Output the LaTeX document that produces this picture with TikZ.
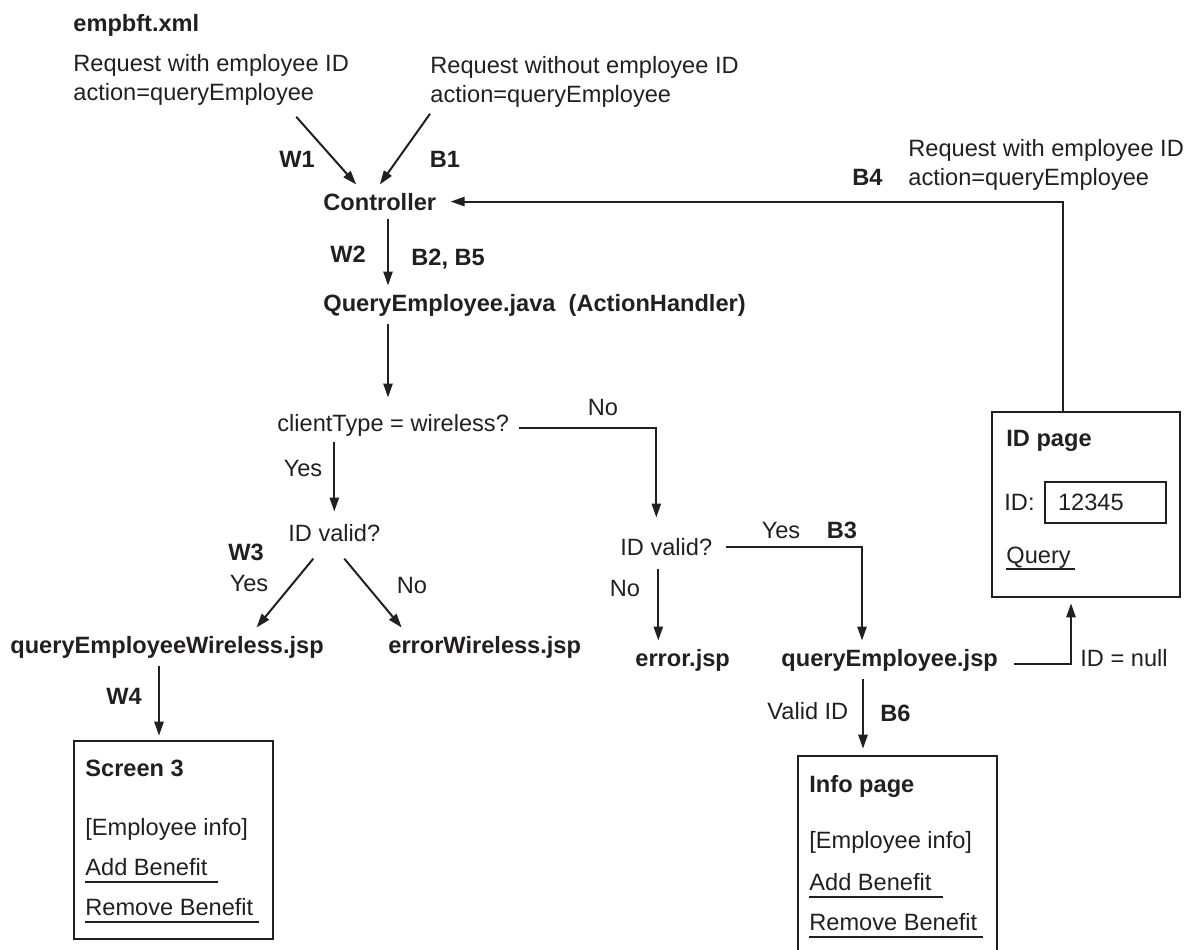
\documentclass[tikz,border=0pt]{standalone}
\usepackage{fontspec}
\setmainfont{Liberation Sans}
\usetikzlibrary{arrows.meta}
\newcommand{\diafont}{\fontsize{11.8}{14.5}\selectfont}
\begin{document}
\begin{tikzpicture}[x=0.5pt,y=-0.5pt]
    % Define colour
    \definecolor{ink}{RGB}{35,31,32}

    % Define styles
    \tikzset{
        txt/.style={
            inner sep=0pt,
            anchor=base west,
            align=left,
            text=ink,
            font=\diafont
        },
        tag/.style={
            txt,
            font=\diafont\bfseries
        },
        file/.style={
            tag,
            inner xsep=0pt,
            inner ysep=4pt
        },
        screen/.style={
            draw=ink,
            line width=1.3pt,
            rectangle,
            minimum width=99.5pt,
            minimum height=99pt
        },
        field/.style={
            draw=ink,
            line width=0.9pt,
            text=ink,
            font=\diafont,
            minimum height=20.5pt,
            text width=47.5pt,
            inner xsep=6.5pt,
            align=left
        },
        flow/.style={
            -{Triangle[length=7pt,width=4.6pt]},
            draw=ink,
            line width=1pt
        },
        uline/.style={
            draw=ink,
            line width=1pt
        }
    }

    \useasboundingbox (0,0) rectangle (1186,949);
    \clip (0,0) rectangle (1186,949);

    % Requests
    \node[tag] (xml) at (73,31) {empbft.xml};
    \node[txt, anchor=north west] (reqW) at (73,54) {Request with employee ID\\action=queryEmployee};
    \node[txt, anchor=north west] (reqB) at (430,56) {Request without employee ID\\action=queryEmployee};
    \node[txt, anchor=north west] (reqID) at (908,139) {Request with employee ID\\action=queryEmployee};

    % Main column
    \node[file] (ctrl) at (323,210) {Controller};
    \node[file] (handler) at (323,311) {QueryEmployee.java~~(ActionHandler)};
    \coordinate (spine) at (388,0);

    % Decisions
    \node[txt] (client) at (277,431) {clientType = wireless?};
    \node[txt] (valid1) at (288,541) {ID valid?};
    \node[txt] (valid2) at (620,555) {ID valid?};

    % JSP pages
    \node[file] (wjsp) at (10,653) {queryEmployeeWireless.jsp};
    \node[file] (ewjsp) at (388,653) {errorWireless.jsp};
    \node[file] (errjsp) at (635,666) {error.jsp};
    \node[file] (qejsp) at (781,666) {queryEmployee.jsp};

    % Screen 3
    \node[screen] (screen3) at (173.5,840) {};
    \node[tag] (s3title) at (85,776) {Screen 3};
    \node[txt] (s3info) at (85,835) {[Employee info]};
    \node[txt] (s3add) at (85,875) {Add Benefit};
    \node[txt] (s3rem) at (85,915) {Remove Benefit};
    \draw[uline] ([yshift=-3.5pt]s3add.base west) -- ++(133,0);
    \draw[uline] ([yshift=-3.5pt]s3rem.base west) -- ++(174,0);

    % ID page
    \node[screen, minimum width=94pt, minimum height=92.5pt] (idpage) at (1086,504.5) {};
    \node[tag] (idtitle) at (1006,446) {ID page};
    \node[txt] (idlbl) at (1004,510) {ID:};
    \node[field] (idfield) at (1105.5,502.5) {12345};
    \node[txt] (query) at (1006,563) {Query};
    \draw[uline] ([yshift=-2.75pt]query.base west) -- ++(69,0);

    % Info page
    \node[screen] (infopage) at (897.5,855) {};
    \node[tag] (iptitle) at (809,792) {Info page};
    \node[txt] (ipinfo) at (809,848) {[Employee info]};
    \node[txt] (ipadd) at (809,890) {Add Benefit};
    \node[txt] (iprem) at (809,930) {Remove Benefit};
    \draw[uline] ([yshift=-3.5pt]ipadd.base west) -- ++(134,0);
    \draw[uline] ([yshift=-3.5pt]iprem.base west) -- ++(174,0);

    % Connectors
    \draw[flow] ([xshift=-26.5pt,yshift=-5.5pt]reqW.south east) -- ([xshift=-11.75pt]ctrl.north);
    \draw[flow] ([yshift=-3pt]reqB.south west) -- (ctrl.north);
    \draw[flow, shorten >=7pt] ([xshift=-11.5pt]idpage.north) |- (ctrl.east);
    \draw[flow] (ctrl.south -| spine) -- (handler.north -| spine);
    \draw[flow, shorten >=8pt] (handler.south -| spine) -- (client.north -| spine);
    \draw[flow, shorten <=5pt, shorten >=10pt] ([yshift=-1.5pt]client.east) -| ([xshift=-5pt]valid2.north);
    \draw[flow, shorten <=3pt, shorten >=6pt] (client.south -| valid1.north) -- (valid1.north);
    \draw[flow] ([xshift=-10.5pt,yshift=-8.5pt]valid1.south) -- ([xshift=44.75pt]wjsp.north);
    \draw[flow] ([xshift=5pt,yshift=-8.5pt]valid1.south) -- ([xshift=-41.5pt]ewjsp.north);
    \coordinate (notop) at ([xshift=-4pt]valid2.south);
    \draw[flow, shorten <=6.5pt] (notop) -- (notop |- errjsp.north);
    \draw[flow, shorten <=6.5pt] (valid2.east) -| ([xshift=40.5pt]qejsp.north west);
    \draw[flow, shorten <=8pt, shorten >=2.5pt] ([yshift=-2pt]qejsp.east) -| ([xshift=-7.5pt]idpage.south);
    \coordinate (w4top) at ([xshift=-7.25pt]screen3.north);
    \draw[flow, shorten >=2pt] (w4top |- wjsp.south) -- (w4top);
    \coordinate (b6top) at ([xshift=-17.25pt]infopage.north);
    \draw[flow, shorten >=3pt] (b6top |- qejsp.south) -- (b6top);

    % Labels
    \node[tag, anchor=base] (w1) at (297,167) {W1};
    \node[tag, anchor=base] (b1) at (445,167) {B1};
    \node[tag, anchor=base] (w2) at (348,262) {W2};
    \node[tag] (b2) at (411,265) {B2, B5};
    \node[tag] (b4) at (852,185) {B4};
    \node[txt, anchor=base] (no1) at (603,415) {No};
    \node[txt, anchor=base] (yes1) at (303,476) {Yes};
    \node[tag, anchor=base] (w3) at (246,560) {W3};
    \node[txt, anchor=base] (yes2) at (249,591) {Yes};
    \node[txt, anchor=base] (no2) at (412,593) {No};
    \node[txt, anchor=base] (no3) at (625,596) {No};
    \node[txt, anchor=base] (yes3) at (781,538) {Yes};
    \node[tag, anchor=base] (b3) at (842,538) {B3};
    \node[tag, anchor=base] (w4) at (124,704) {W4};
    \node[txt] (validid) at (767,719) {Valid ID};
    \node[tag] (b6) at (880,721) {B6};
    \node[txt] (idnull) at (1080,666) {ID = null};
\end{tikzpicture}
\end{document}
